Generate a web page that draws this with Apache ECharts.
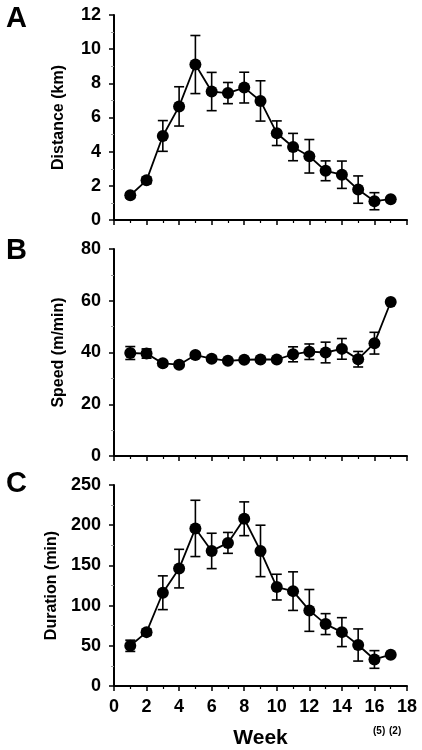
<!DOCTYPE html>
<html><head><meta charset="utf-8">
<script src="https://cdn.jsdelivr.net/npm/echarts@6/dist/echarts.min.js"></script>
<style>html,body{margin:0;padding:0;background:#fff}#c{width:422px;height:750px}</style>
</head><body><div id="c"></div>
<script>
const weeks = [1,2,3,4,5,6,7,8,9,10,11,12,13,14,15,16,17];
const distance    = [1.45,2.32,4.92,6.65,9.1,7.52,7.43,7.75,6.97,5.08,4.27,3.73,2.88,2.65,1.78,1.1,1.22];
const distanceErr = [0.15,0.2,0.9,1.15,1.7,1.12,0.62,0.9,1.18,0.72,0.8,0.98,0.58,0.8,0.8,0.5,0];
const speed       = [39.8,39.6,35.8,35.3,39.0,37.6,36.8,37.2,37.3,37.3,39.3,40.3,40.0,41.4,37.4,43.6,59.5];
const speedErr    = [2.5,1.8,1.0,1.0,1.0,1.0,0.8,0.8,0.8,0.8,2.9,3.0,4.0,4.0,3.0,4.2,0];
const duration    = [50,67,116,146,196,168,178,208,168,123,118,94,77,67,51,33,39];
const durationErr = [7,4,21,24,35,22,13,21,32,16,24,26,13,18,20,11,0];
const yTitles = ['Distance (km)','Speed (m/min)','Duration (min)'];
const panelLetters = ['A','B','C'];
const xTitle = 'Week';
const nNotes = ['(5)','(2)'];

const FONT = '"Liberation Sans", Arial, sans-serif';
const chart = echarts.init(document.getElementById('c'));

function errRender(params, api){
  const x = api.value(0), y = api.value(1), e = api.value(2);
  if(!e) return null;
  const t = api.coord([x, y+e]), b = api.coord([x, y-e]);
  const w = 5;
  const st = {stroke:'#000', lineWidth:1.6};
  return {type:'group', children:[
    {type:'line', shape:{x1:t[0],y1:t[1],x2:b[0],y2:b[1]}, style:st},
    {type:'line', shape:{x1:t[0]-w,y1:t[1],x2:t[0]+w,y2:t[1]}, style:st},
    {type:'line', shape:{x1:b[0]-w,y1:b[1],x2:b[0]+w,y2:b[1]}, style:st}
  ]};
}

const grids = [
  {left:114, right:15, top:15, height:205},
  {left:114, right:15, top:249, height:207},
  {left:114, right:15, top:485, height:204}
];
const yCfg = [[0,12,2],[0,80,20],[0,250,50]];
const vals = [distance, speed, duration];
const errs = [distanceErr, speedErr, durationErr];

const axisLine = {show:true, lineStyle:{color:'#000', width:2}};
const xAxes = grids.map((g,i)=>({
  type:'value', gridIndex:i, min:0, max:18, interval:2,
  axisLine: axisLine,
  axisTick:{show:true, length:5, lineStyle:{color:'#000', width:1.5}},
  minorTick:{show:true, splitNumber:2, length:3, lineStyle:{color:'#000', width:1.2}},
  splitLine:{show:false}, minorSplitLine:{show:false},
  axisLabel:{show: i===2, margin:12, color:'#000', fontFamily:FONT, fontWeight:'bold', fontSize:18},
  name: i===2 ? xTitle : '', nameLocation:'middle', nameGap:42,
  nameTextStyle:{color:'#000', fontFamily:FONT, fontWeight:'bold', fontSize:21}
}));
const yAxes = grids.map((g,i)=>({
  type:'value', gridIndex:i, min:yCfg[i][0], max:yCfg[i][1], interval:yCfg[i][2],
  axisLine: axisLine,
  axisTick:{show:true, length:5, lineStyle:{color:'#000', width:1.5}},
  minorTick:{show:true, splitNumber:2, length:3, lineStyle:{color:'#999', width:1}},
  splitLine:{show:false}, minorSplitLine:{show:false},
  axisLabel:{margin:13, color:'#000', fontFamily:FONT, fontWeight:'bold', fontSize:18},
  name: yTitles[i], nameLocation:'middle', nameGap:47,
  nameTextStyle:{color:'#000', fontFamily:FONT, fontWeight:'bold', fontSize:16}
}));

const series = [];
vals.forEach((v,i)=>{
  series.push({
    type:'custom', xAxisIndex:i, yAxisIndex:i, renderItem:errRender,
    encode:{x:0,y:1}, z:2, silent:true,
    data: weeks.map((w,k)=>[w, v[k], errs[i][k]])
  });
  series.push({
    type:'line', xAxisIndex:i, yAxisIndex:i, z:3,
    symbol:'circle', symbolSize:12,
    itemStyle:{color:'#000'}, lineStyle:{color:'#000', width:1.8},
    data: weeks.map((w,k)=>[w, v[k]])
  });
});

const letterTops = [4, 236, 469];
const graphic = panelLetters.map((L,i)=>({
  type:'text', left:6, top:letterTops[i],
  style:{text:L, font:'bold 29px '+FONT, fill:'#000'}
}));
graphic.push({type:'text', left:373, top:726, style:{text:nNotes[0], font:'bold 10px '+FONT, fill:'#000'}});
graphic.push({type:'text', left:389, top:726, style:{text:nNotes[1], font:'bold 10px '+FONT, fill:'#000'}});

chart.setOption({
  animation:false, backgroundColor:'#fff',
  grid:grids, xAxis:xAxes, yAxis:yAxes, series:series, graphic:graphic
});
</script></body></html>
